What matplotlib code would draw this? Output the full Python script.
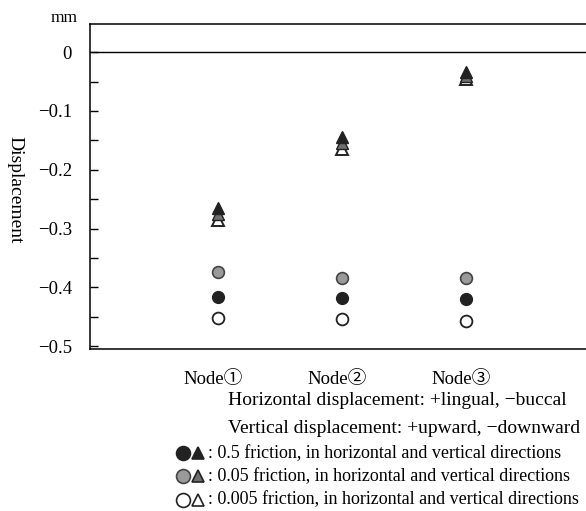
import matplotlib.pyplot as plt
from matplotlib.lines import Line2D
from matplotlib.ticker import MultipleLocator

plt.rcParams['font.family'] = ['Liberation Serif', 'Noto Sans CJK JP', 'DejaVu Serif']

nodes = ['Node①', 'Node②', 'Node③']
xpos = [1, 2, 3]

# vertical displacement (triangles)
tri_05 = [-0.265, -0.145, -0.034]
tri_005 = [-0.275, -0.155, -0.040]
tri_0005 = [-0.285, -0.165, -0.046]
# horizontal displacement (circles)
circ_05 = [-0.417, -0.418, -0.420]
circ_005 = [-0.374, -0.384, -0.384]
circ_0005 = [-0.452, -0.454, -0.457]

black = '#222222'
gray = '#9a9a9a'
gray_tri = '#6f6f6f'

fig = plt.figure(figsize=(5.86, 5.11), dpi=100)
ax = fig.add_axes([0.1536, 0.317, 0.8464, 0.636])

ms = 8.5
ax.plot(xpos, circ_005, 'o', ms=ms, mfc=gray, mec='#444444', mew=1.2)
ax.plot(xpos, circ_05, 'o', ms=ms, mfc=black, mec=black)
ax.plot(xpos, circ_0005, 'o', ms=ms, mfc='white', mec=black, mew=1.3)
ax.plot(xpos, tri_0005, '^', ms=ms, mfc='white', mec=black, mew=1.4)
ax.plot(xpos, tri_005, '^', ms=ms, mfc=gray_tri, mec=black, mew=1.0)
ax.plot(xpos, tri_05, '^', ms=ms, mfc=black, mec=black)

ax.axhline(0, color='black', lw=1)
ax.set_xlim(-0.03, 3.97)
ax.set_ylim(-0.505, 0.048)
ax.yaxis.set_major_locator(MultipleLocator(0.1))
ax.yaxis.set_minor_locator(MultipleLocator(0.05))
ax.tick_params(axis='y', which='both', direction='in', length=6, width=1,
               labelsize=13.5, pad=13)
ax.set_xticks([])
ax.spines['right'].set_visible(False)
for s in ['left', 'top', 'bottom']:
    ax.spines[s].set_linewidth(1.1)
ax.set_yticks([0, -0.1, -0.2, -0.3, -0.4, -0.5])
ax.set_yticklabels(['0', '−0.1', '−0.2', '−0.3', '−0.4', '−0.5'])

ax.set_ylabel('Displacement', fontsize=14, rotation=-90, va='center')
ax.yaxis.set_label_coords(-0.152, 0.49)
fig.text(0.11, 0.965, 'mm', fontsize=12.5, ha='center', va='center')

for x, name in zip(xpos, nodes):
    ax.annotate(name, xy=(x, 0), xycoords=('data', 'axes fraction'),
                xytext=(-3, -22), textcoords='offset points',
                ha='center', va='center', fontsize=13.5)

fig.text(0.389, 0.217, 'Horizontal displacement: +lingual, −buccal',
         fontsize=14, va='center')
fig.text(0.389, 0.162, 'Vertical displacement: +upward, −downward',
         fontsize=14, va='center')

legend_rows = [
    (black, black, black, black, ': 0.5 friction, in horizontal and vertical directions'),
    (gray, '#444444', gray_tri, black, ': 0.05 friction, in horizontal and vertical directions'),
    ('white', black, 'white', black, ': 0.005 friction, in horizontal and vertical directions'),
]
ys = [0.113, 0.068, 0.022]
for (cf, ce, tf, te, label), y in zip(legend_rows, ys):
    fig.add_artist(Line2D([0.312], [y], marker='o', ms=10, mfc=cf, mec=ce,
                          mew=1.2, transform=fig.transFigure))
    fig.add_artist(Line2D([0.338], [y], marker='^', ms=9, mfc=tf, mec=te,
                          mew=1.2, transform=fig.transFigure))
    fig.text(0.355, y, label, fontsize=13, va='center')

fig.savefig('out.png', dpi=100)
